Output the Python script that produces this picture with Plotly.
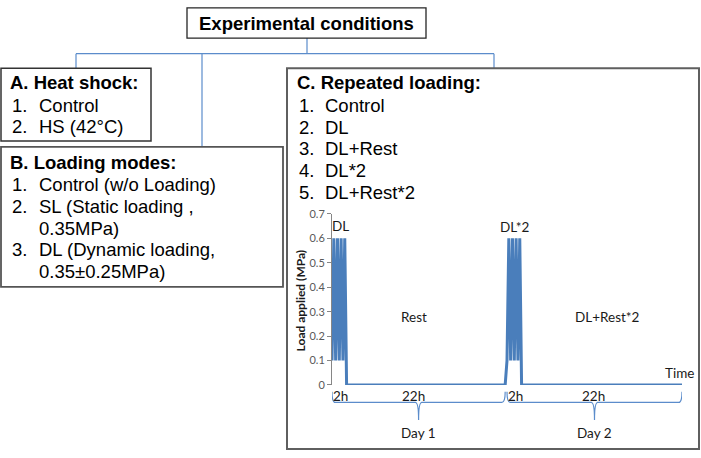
import plotly.graph_objects as go

W, H = 701, 458

# ---------------- data ----------------
dl1_time = [0.0, 0.25, 0.5, 0.75, 1.0, 1.25, 1.5, 1.75, 2.0]
dl1_load = [0.1, 0.6, 0.1, 0.6, 0.1, 0.6, 0.1, 0.6, 0.0]
rest1_time = [23.75]
rest1_load = [0.0]
dl2_time = [24.0, 24.25, 24.5, 24.75, 25.0, 25.25, 25.5, 25.75, 26.0]
dl2_load = [0.1, 0.6, 0.1, 0.6, 0.1, 0.6, 0.1, 0.6, 0.0]
rest2_time = [48.0]
rest2_load = [0.0]

y_ticks = [0, 0.1, 0.2, 0.3, 0.4, 0.5, 0.6, 0.7]
y_tick_labels = ["0", "0.1", "0.2", "0.3", "0.4", "0.5", "0.6", "0.7"]

day_spans = [(0.0, 23.75), (24.0, 48.0)]
day_labels = ["Day 1", "Day 2"]

title_text = "Experimental conditions"
box_a_head = "A. Heat shock:"
box_a_items = ["Control", "HS (42°C)"]
box_b_head = "B. Loading modes:"
box_b_rows = [("1.", "Control (w/o Loading)"), ("2.", "SL (Static loading ,"),
              ("", "0.35MPa)"), ("3.", "DL (Dynamic loading,"), ("", "0.35±0.25MPa)")]
box_c_head = "C. Repeated loading:"
box_c_items = ["Control", "DL", "DL+Rest", "DL*2", "DL+Rest*2"]

time_all = dl1_time + rest1_time + dl2_time + rest2_time
load_all = dl1_load + rest1_load + dl2_load + rest2_load

# -------------- helpers --------------
def px(x):
    return x / W

def py(y):
    return 1 - y / H

BLUE = "#4A7EBB"
CONN = "#5B8CCB"
ARIAL = "Liberation Sans, Arial, sans-serif"
CAL = "Lato, Carlito, Calibri, sans-serif"

fig = go.Figure()
fig.add_trace(go.Scatter(x=time_all, y=load_all, mode="lines",
                         line=dict(color=BLUE, width=3), hoverinfo="skip"))

shapes = []
annotations = []

def rect(x0, y0, x1, y1, color="#404040", width=1.5):
    shapes.append(dict(type="rect", xref="paper", yref="paper",
                       x0=px(x0), x1=px(x1), y0=py(y1), y1=py(y0),
                       line=dict(color=color, width=width), fillcolor="rgba(0,0,0,0)"))

def line(x0, y0, x1, y1, color=CONN, width=1.2):
    shapes.append(dict(type="line", xref="paper", yref="paper",
                       x0=px(x0), x1=px(x1), y0=py(y0), y1=py(y1),
                       line=dict(color=color, width=width)))

def text(x, y, s, size=18.5, bold=False, anchor="left", color="#000000", family=ARIAL):
    annotations.append(dict(xref="paper", yref="paper", x=px(x), y=py(y),
                            text=f"<b>{s}</b>" if bold else s, showarrow=False,
                            xanchor=anchor, yanchor="middle",
                            font=dict(family=family, size=size, color=color)))

# connectors
line(307, 32, 307, 48)
line(76, 48, 494, 48)
line(76, 48, 76, 63)
line(202, 48, 202, 144)
line(494, 48, 494, 63)

# boxes
rect(187, 1, 426, 32, color="#262626", width=1.3)
rect(1, 63, 151, 138, color="#333333", width=1.5)
rect(1, 144, 283, 288, color="#555555", width=1.8)
rect(287, 63, 699, 455, color="#5f5f5f", width=2)

# title
text(306.5, 16.5, title_text, size=18.5, bold=True, anchor="center")

# box A
text(8, 78, box_a_head, bold=True)
for i, s in enumerate(box_a_items):
    yy = 101 + i * 22
    text(10, yy, f"{i+1}.")
    text(37, yy, s)

# box B
text(8, 160, box_b_head, bold=True)
for i, (n, s) in enumerate(box_b_rows):
    yy = 183 + i * 22.3
    if n:
        text(10, yy, n)
    text(37, yy, s)

# box C
text(295, 78, box_c_head, bold=True)
for i, s in enumerate(box_c_items):
    yy = 101.5 + i * 22.3
    text(297, yy, f"{i+1}.")
    text(323, yy, s)

# chart labels (data coordinates)
def dtext(x, y, s, size=13.5):
    annotations.append(dict(xref="x", yref="y", x=x, y=y, text=s, showarrow=False,
                            xanchor="center", yanchor="middle",
                            font=dict(family=CAL, size=size, color="#1a1a1a")))

dtext(1.15, 0.652, "DL")
dtext(25.1, 0.645, "DL*2")
dtext(11.2, 0.278, "Rest")
dtext(37.8, 0.278, "DL+Rest*2")
dtext(47.6, 0.048, "Time")

# hour labels below axis
def htext(x, y, s, size=13.5):
    annotations.append(dict(xref="x", yref="paper", x=x, y=py(y), text=s, showarrow=False,
                            xanchor="center", yanchor="middle",
                            font=dict(family=CAL, size=size, color="#1a1a1a")))

htext(1.2, 400, "2h")
htext(11.2, 400, "22h")
htext(25.2, 400, "2h")
htext(35.9, 400, "22h")

# braces for days
yt, yb, ytip = py(396), py(407), py(425)
d = 0.45
for (x0, x1), lab in zip(day_spans, day_labels):
    xm = (x0 + x1) / 2
    path = (f"M {x0},{yt} Q {x0},{yb} {x0+d},{yb} L {xm-d},{yb} "
            f"Q {xm},{yb} {xm},{ytip} Q {xm},{yb} {xm+d},{yb} "
            f"L {x1-d},{yb} Q {x1},{yb} {x1},{yt}")
    shapes.append(dict(type="path", xref="x", yref="paper", path=path,
                       line=dict(color=CONN, width=1.2)))
    htext(xm, 438, lab)

# y-axis title
annotations.append(dict(xref="paper", yref="paper", x=px(300), y=py(302),
                        text="<b>Load applied (MPa)</b>", textangle=-90, showarrow=False,
                        xanchor="center", yanchor="middle",
                        font=dict(family=CAL, size=12, color="#1a1a1a")))

fig.update_layout(
    width=W, height=H, autosize=False,
    margin=dict(l=0, r=0, t=0, b=0),
    paper_bgcolor="white", plot_bgcolor="rgba(0,0,0,0)",
    showlegend=False,
    xaxis=dict(domain=[332 / W, 682 / W], range=[0, 48], showline=False, showgrid=False,
               zeroline=False, showticklabels=False, ticks="", fixedrange=True),
    yaxis=dict(domain=[(H - 389) / H, (H - 213) / H], range=[0, 0.7],
               tickvals=y_ticks, ticktext=y_tick_labels,
               showline=True, linecolor="#868686", linewidth=1,
               ticks="outside", ticklen=4, tickcolor="#868686",
               tickfont=dict(family=CAL, size=11, color="#595959"),
               showgrid=False, zeroline=False, fixedrange=True),
    shapes=shapes,
    annotations=annotations,
)

fig.write_html("out.html", config={"displayModeBar": False},
               post_script="document.body.style.margin='0';document.body.style.padding='0';"
                           "document.documentElement.style.overflow='hidden';")
